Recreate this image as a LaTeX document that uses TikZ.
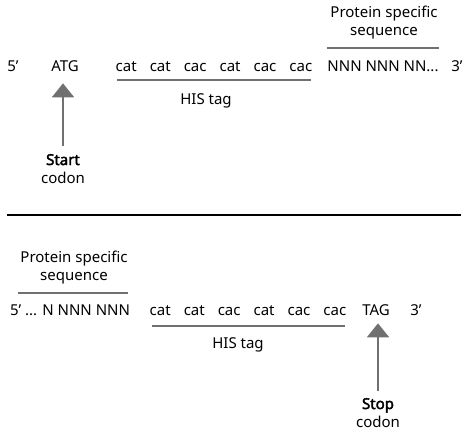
\documentclass[tikz,border=0pt]{standalone}
\usepackage{fontspec}
\setmainfont{Noto Sans}[BoldFont={Noto Sans},BoldFeatures={FakeBold=2.5}]
\usetikzlibrary{arrows.meta}
\definecolor{tagline}{HTML}{707070}
\newcommand{\cgap}{\hspace{13pt}}

\begin{document}
\begin{tikzpicture}[x=1pt, y=-1pt, >={Triangle[width=22pt,length=14pt]},
  txt/.style={inner sep=0pt, anchor=base, font=\fontsize{15}{18}\selectfont, align=center},
  bar/.style={tagline, line width=1.5pt},
  marker/.style={->, tagline, line width=2pt}]
  \useasboundingbox (0,0) rectangle (474,441);
  % top strand (start)
  \node[txt] (five1) at (13,72) {5’};
  \node[txt] (atg) at (65,72) {ATG};
  \node[txt] (his1) at (214,72) {cat\cgap cat\cgap cac\cgap cat\cgap cac\cgap cac};
  \node[txt] (nnn1) at (383,72) {NNN NNN NN...};
  \node[txt] (three1) at (457,72) {3’};
  \node[txt] (hislab1) at (206,105) {HIS tag};
  \node[txt] (prot1) at (384,36) {Protein specific\\sequence};
  \node[txt] (start) at (63,183) {\textbf{Start}\\codon};
  \draw[bar] (117,80) -- (311,80);
  \draw[bar] (327,48) -- (439,48);
  \draw[marker, shorten <=8pt, shorten >=11pt] (start.north) -- (start.north |- atg.south);
  % separator
  \draw[line width=2pt] (7,214.5) -- (461,214.5);
  % bottom strand (stop)
  \node[txt] (five2) at (70,315) {5’ ... N NNN NNN};
  \node[txt] (his2) at (248,315) {cat\cgap cat\cgap cac\cgap cat\cgap cac\cgap cac};
  \node[txt] (tag) at (376,315) {TAG};
  \node[txt] (three2) at (416,315) {3’};
  \node[txt] (hislab2) at (238,348) {HIS tag};
  \node[txt] (prot2) at (74,280) {Protein specific\\sequence};
  \node[txt] (stop) at (378,427) {\textbf{Stop}\\codon};
  \draw[bar] (152,326) -- (345,326);
  \draw[bar] (18,293) -- (128,293);
  \draw[marker, shorten <=7pt, shorten >=8pt] (stop.north) -- (stop.north |- tag.south);
\end{tikzpicture}
\end{document}
